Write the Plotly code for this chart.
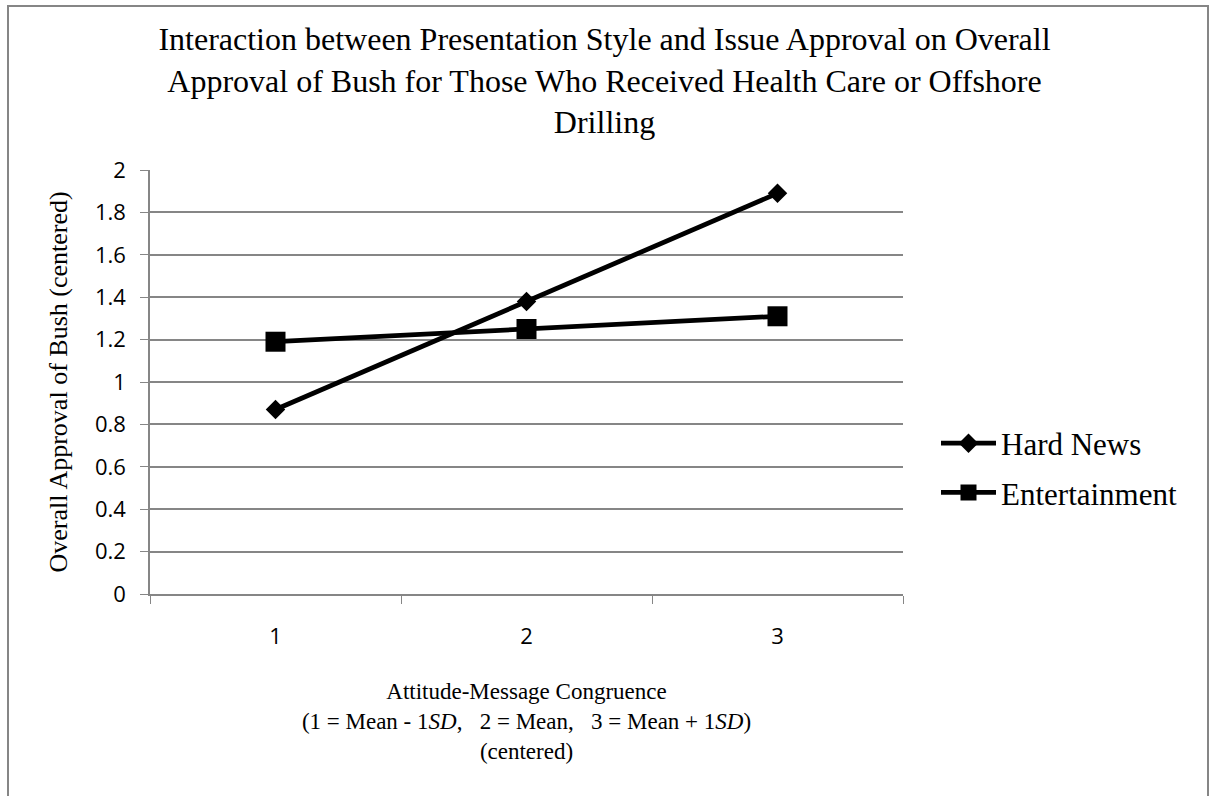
import plotly.graph_objects as go

# Congruence levels on the x axis
congruence = ["1", "2", "3"]

# Predicted overall approval (centered) for each presentation style
hard_news = [0.87, 1.38, 1.89]
entertainment = [1.19, 1.25, 1.31]

# Y-axis tick values and their labels
y_ticks = [0, 0.2, 0.4, 0.6, 0.8, 1, 1.2, 1.4, 1.6, 1.8, 2]
y_tick_text = ["0", "0.2", "0.4", "0.6", "0.8", "1", "1.2", "1.4", "1.6", "1.8", "2"]

GRID = "#868686"
SERIF = "Liberation Serif, Times New Roman, serif"
SANS = "Open Sans, Lato, sans-serif"

fig = go.Figure()
fig.add_trace(go.Scatter(
    x=congruence, y=hard_news, name="Hard News", mode="lines+markers",
    line=dict(color="black", width=4.8),
    marker=dict(symbol="diamond", size=15, color="black"),
    legendgroup="hn",
))
fig.add_trace(go.Scatter(
    x=congruence, y=entertainment, name="Entertainment", mode="lines+markers",
    line=dict(color="black", width=4.8),
    marker=dict(symbol="square", size=20, color="black"),
    legendgroup="ent",
))

fig.update_layout(
    width=1209, height=796,
    margin=dict(l=150, r=306, t=170, b=202),
    paper_bgcolor="white", plot_bgcolor="white",
    title=dict(
        text="Interaction between Presentation Style and Issue Approval on Overall<br>"
             "Approval of Bush for Those Who Received Health Care or Offshore<br>Drilling",
        x=0.5, xref="container", xanchor="center",
        y=1 - 50 / 796, yref="container", yanchor="top",
        font=dict(family=SERIF, size=32, color="black"),
    ),
    showlegend=True,
    legend=dict(
        x=(936 - 150) / 753, xanchor="left",
        y=(594 - 468) / 424, yanchor="middle",
        font=dict(family=SERIF, size=31, color="black"),
        traceorder="grouped", tracegroupgap=6,
        itemwidth=55,
        bgcolor="rgba(0,0,0,0)",
    ),
    xaxis=dict(
        type="category", range=[-0.5, 2.5],
        tickson="boundaries", ticks="outside", ticklen=8, tickcolor=GRID, tickwidth=1,
        showline=True, linecolor=GRID, linewidth=1.5,
        showgrid=False, zeroline=False,
        tickfont=dict(family=SANS, size=22, color="black"),
        ticklabelstandoff=22,
        title=dict(
            text="Attitude-Message Congruence<br>(1 = Mean - 1<i>SD</i>,   2 = Mean,   3 = Mean + 1<i>SD</i>)<br>(centered)",
            font=dict(family=SERIF, size=23, color="black"),
            standoff=34,
        ),
    ),
    yaxis=dict(
        range=[0, 2], tickvals=y_ticks, ticktext=y_tick_text,
        ticks="outside", ticklen=8, tickcolor=GRID, tickwidth=1,
        showline=True, linecolor=GRID, linewidth=1.5,
        showgrid=True, gridcolor=GRID, gridwidth=1.5, zeroline=False,
        tickfont=dict(family=SANS, size=22, color="black"),
        ticklabelstandoff=10,
        title=dict(
            text="Overall Approval of Bush (centered)",
            font=dict(family=SERIF, size=26, color="black"),
            standoff=20,
        ),
    ),
)

# Outer frame around the whole chart area
fig.add_shape(
    type="rect", xref="paper", yref="paper",
    x0=(8 - 150) / 753, x1=(1208 - 150) / 753,
    y0=(594 - 820) / 424, y1=(594 - 6) / 424,
    line=dict(color=GRID, width=2), fillcolor="rgba(0,0,0,0)", layer="below",
)

fig.write_html("out.html")
